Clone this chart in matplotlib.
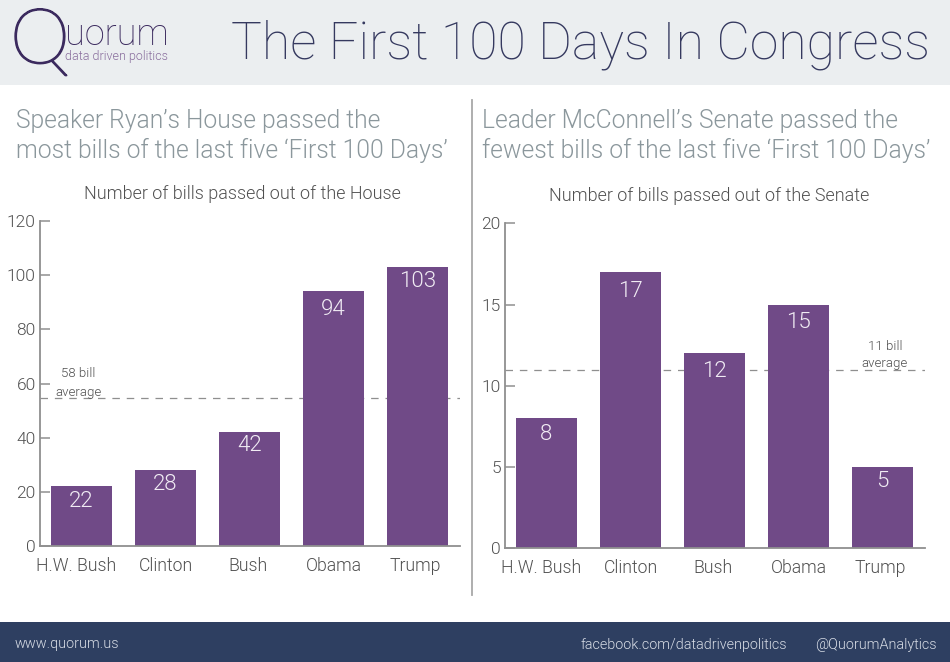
import matplotlib
matplotlib.use('Agg')
import matplotlib.pyplot as plt
import matplotlib.patheffects as pe
from matplotlib.patches import Rectangle

# data
presidents = ['H.W. Bush', 'Clinton', 'Bush', 'Obama', 'Trump']
house_bills = [22, 28, 42, 94, 103]
senate_bills = [8, 17, 12, 15, 5]
house_avg_line = 54.7
senate_avg_line = 11
house_ticks = [0, 20, 40, 60, 80, 100, 120]
senate_ticks = [0, 5, 10, 15, 20]

# small nudges for labels (pixels), the original was hand placed
label_nudge = [-5, 1, -1, 0, -2.5]
house_value_nudge = [-5, -4, -3, -8, -4]
senate_value_nudge = [-6, -9, -8, -7, -4]

W, H = 950, 662
PURPLE = '#704a87'
GREY = '#8f8f8f'
TEXT = '#505050'
NAVY = '#35395f'
SUB = '#8b979c'

plt.rcParams['font.family'] = ['Roboto', 'DejaVu Sans']

fig = plt.figure(figsize=(W / 100, H / 100), dpi=100, facecolor='white')


def px_text(x, y, s, **kw):
    # place text using reference pixel coords
    kw.setdefault('fontweight', 300)
    return fig.text(x / W, 1 - y / H, s, **kw)


# header and footer bands
fig.add_artist(Rectangle((0, 1 - 85 / H), 1, 85 / H, transform=fig.transFigure, color='#ebeef0', lw=0))
fig.add_artist(Rectangle((0, 0), 1, 40 / H, transform=fig.transFigure, color='#2e3f61', lw=0))
fig.add_artist(plt.Line2D([472 / W, 472 / W], [1 - 100 / H, 1 - 595 / H], transform=fig.transFigure,
                          color='#a8a8a8', lw=1.3))

# logo
q = px_text(10, 63, 'Q', fontsize=55, color='#3b2a5e', va='baseline', family=['Lato'], fontweight=100)
q.set_path_effects([pe.withStroke(linewidth=1.3, foreground='#3b2a5e')])
px_text(65, 45, 'uorum', fontsize=26, color='#3b2a5e', va='baseline', fontweight=100)
px_text(65, 60, 'data driven politics', fontsize=9, color='#8a6f9e', va='baseline')

px_text(231, 58, 'The First 100 Days In Congress', fontsize=37.3, color=NAVY, va='baseline', fontweight=100)

# panel headlines
px_text(16, 128, 'Speaker Ryan\u2019s House passed the', fontsize=17.7, color=SUB, va='baseline')
px_text(16, 158, 'most bills of the last five \u2018First 100 Days\u2019', fontsize=17.7, color=SUB, va='baseline')
px_text(482, 128, 'Leader McConnell\u2019s Senate passed the', fontsize=17.7, color=SUB, va='baseline')
px_text(482, 158, 'fewest bills of the last five \u2018First 100 Days\u2019', fontsize=17.7, color=SUB, va='baseline')

px_text(242, 199, 'Number of bills passed out of the House', fontsize=13, color=TEXT, ha='center')
px_text(709, 201, 'Number of bills passed out of the Senate', fontsize=13, color=TEXT, ha='center')


def draw_panel(left, right, top, bottom, values, ticks, avg, ymax, value_nudge):
    ax = fig.add_axes([left / W, 1 - bottom / H, (right - left) / W, (bottom - top) / H])
    xs = list(range(len(values)))
    ax.axhline(avg, color=GREY, lw=0.9, dashes=(6, 5.5), zorder=1)
    ax.bar(xs, values, width=0.726, color=PURPLE, zorder=2)
    for x, v, dy in zip(xs, values, value_nudge):
        ax.annotate(str(v), (x, v), xytext=(0, dy), textcoords='offset pixels', ha='center', va='top',
                    fontsize=16, color='#f1ecf4', fontweight=300, zorder=3)
    ax.set_xlim(-0.494, 4.506)
    ax.set_ylim(0, ymax)
    ax.set_yticks(ticks)
    ax.set_xticks([x + n / 84 for x, n in zip(xs, label_nudge)])
    ax.set_xticklabels(presidents)
    ax.tick_params(axis='y', direction='in', length=7, width=1.1, color=GREY, labelsize=12.5,
                   labelcolor=TEXT, pad=3)
    ax.tick_params(axis='x', length=0, labelsize=12.7, labelcolor=TEXT, pad=8)
    for lab in ax.get_xticklabels() + ax.get_yticklabels():
        lab.set_fontweight(300)
    ax.spines['top'].set_visible(False)
    ax.spines['right'].set_visible(False)
    ax.spines['left'].set_color(GREY)
    ax.spines['bottom'].set_color(GREY)
    ax.spines['left'].set_linewidth(1.3)
    ax.spines['bottom'].set_linewidth(1.3)
    return ax


draw_panel(40, 460, 221, 546, house_bills, house_ticks, house_avg_line, 120, house_value_nudge)
draw_panel(505, 925, 223.3, 548.3, senate_bills, senate_ticks, senate_avg_line, 20, senate_value_nudge)

# average notes
px_text(78, 377, '58 bill', fontsize=9.5, color=TEXT, ha='center')
px_text(78, 396, 'average', fontsize=9.5, color=TEXT, ha='center')
px_text(885, 350, '11 bill', fontsize=9.5, color=TEXT, ha='center')
px_text(885, 367, 'average', fontsize=9.5, color=TEXT, ha='center')

# footer text
px_text(15, 648, 'www.quorum.us', fontsize=10.4, color='#d8dde6')
px_text(787, 649, 'facebook.com/datadrivenpolitics', fontsize=10.4, color='#d8dde6', ha='right')
px_text(937, 649, '@QuorumAnalytics', fontsize=10.4, color='#d8dde6', ha='right')

fig.savefig('out.png', dpi=100)
